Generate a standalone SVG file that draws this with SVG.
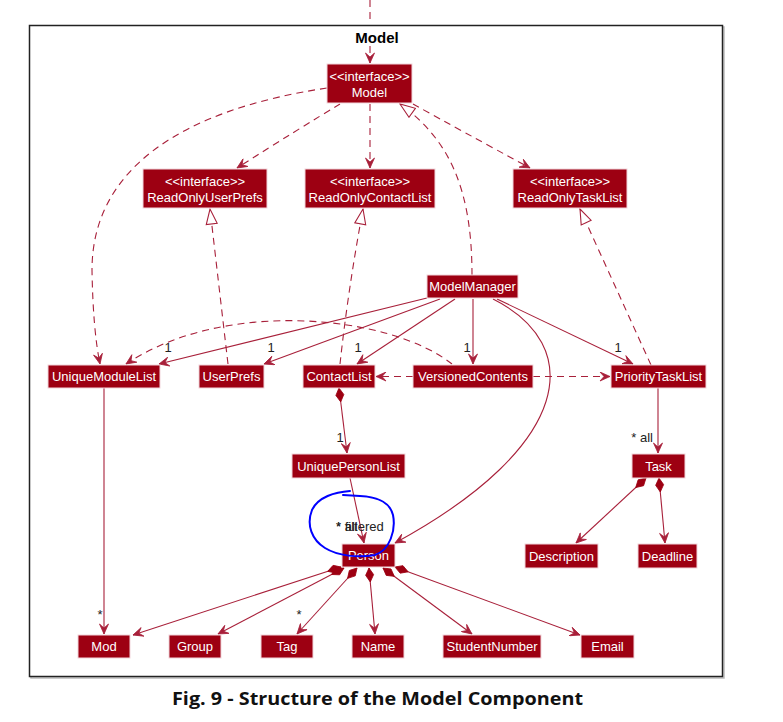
<svg xmlns="http://www.w3.org/2000/svg" width="783" height="722" viewBox="0 0 783 722">
<style>
.n{fill:#9D0012;stroke:#F2D6DC;stroke-width:1}
.t{font-family:"Liberation Sans",Arial,sans-serif;font-size:13px;fill:#FFFFFF;text-anchor:middle}
.e{fill:none;stroke:#A8203A;stroke-width:1.1}
.d{stroke-dasharray:7,5}
.l{font-family:"Liberation Sans",Arial,sans-serif;font-size:13px;fill:#222}
</style>
<defs>
<marker id="arr" viewBox="0 0 12 10" refX="11" refY="5" markerWidth="12" markerHeight="10" markerUnits="userSpaceOnUse" orient="auto">
<path d="M1,0.5 L11,5 L1,9.5 L5,5 Z" fill="#A8203A" stroke="#A8203A" stroke-width="0.8"/>
</marker>
<marker id="tri" viewBox="0 0 17 13" refX="16" refY="6.5" markerWidth="17" markerHeight="13" markerUnits="userSpaceOnUse" orient="auto">
<path d="M1,1 L16,6.5 L1,12 Z" fill="#FFFFFF" stroke="#A8203A" stroke-width="1.1"/>
</marker>
<marker id="dia" viewBox="0 0 17 10" refX="1" refY="5" markerWidth="17" markerHeight="10" markerUnits="userSpaceOnUse" orient="auto">
<path d="M1,5 L8,1 L15,5 L8,9 Z" fill="#9D0012" stroke="#9D0012" stroke-width="0.8"/>
</marker>
</defs>
<rect x="0" y="0" width="783" height="722" fill="#FFFFFF"/>
<g id="frame">
<rect x="31" y="27" width="693" height="651" fill="none" stroke="#BBBBBB" stroke-width="1.5"/>
<rect x="29.5" y="25.5" width="693" height="651" fill="#FFFFFF" stroke="#222222" stroke-width="1.5"/>
<text x="377" y="43" font-family="Liberation Sans,Arial,sans-serif" font-size="15" font-weight="bold" text-anchor="middle" fill="#000">Model</text>
</g>
<g id="connectors">
<path class="e d" d="M370,0 L370,22"/>
<path class="e d" d="M370,46 L370,63" marker-end="url(#arr)"/>
<path class="e d" d="M340,104 Q300,128 237,168" marker-end="url(#arr)"/>
<path class="e d" d="M370,104 L370,168" marker-end="url(#arr)"/>
<path class="e d" d="M413,104 Q460,130 530,168" marker-end="url(#arr)"/>
<path class="e d" d="M472,275 C472,190 450,140 400,104" marker-end="url(#tri)"/>
<path class="e d" d="M327,88 C180,110 92,170 92,270 Q93,330 100,364" marker-end="url(#arr)"/>
<path class="e d" d="M340,364 Q348,290 363,209" marker-end="url(#tri)"/>
<path class="e d" d="M228,364 L210,209" marker-end="url(#tri)"/>
<path class="e d" d="M651,365 L580,209" marker-end="url(#tri)"/>
<path class="e" d="M427,298 L159,364" marker-end="url(#arr)"/>
<path class="e" d="M440,299 L264,364" marker-end="url(#arr)"/>
<path class="e" d="M455,299 L357,364" marker-end="url(#arr)"/>
<path class="e" d="M473,299 L473,364" marker-end="url(#arr)"/>
<path class="e" d="M497,299 L633,364" marker-end="url(#arr)"/>
<path class="e" d="M493,299 C585,345 575,445 395,543" marker-end="url(#arr)"/>
<path class="e d" d="M452,364 C390,315 225,298 126,364" marker-end="url(#arr)"/>
<path class="e d" d="M413,376.5 L376,376.5" marker-end="url(#arr)"/>
<path class="e d" d="M533,376.5 L610,376.5" marker-end="url(#arr)"/>
<path class="e" d="M339,388 L347,453" marker-start="url(#dia)" marker-end="url(#arr)"/>
<path class="e" d="M350,478 L364,543" marker-end="url(#arr)"/>
<path class="e" d="M104,388 L104,634" marker-end="url(#arr)"/>
<path class="e" d="M658,388 L658,453" marker-end="url(#arr)"/>
<path class="e" d="M646,478 L576,543" marker-start="url(#dia)" marker-end="url(#arr)"/>
<path class="e" d="M659,478 L665,543" marker-start="url(#dia)" marker-end="url(#arr)"/>
<path class="e" d="M341,567 L133,635" marker-start="url(#dia)" marker-end="url(#arr)"/>
<path class="e" d="M344,568 L218,634" marker-start="url(#dia)" marker-end="url(#arr)"/>
<path class="e" d="M357,568 L297,634" marker-start="url(#dia)" marker-end="url(#arr)"/>
<path class="e" d="M369,568 L375,634" marker-start="url(#dia)" marker-end="url(#arr)"/>
<path class="e" d="M383,568 L472,634" marker-start="url(#dia)" marker-end="url(#arr)"/>
<path class="e" d="M395,567 L580,635" marker-start="url(#dia)" marker-end="url(#arr)"/>
<text class="l" x="168" y="352" text-anchor="middle">1</text>
<text class="l" x="271" y="352" text-anchor="middle">1</text>
<text class="l" x="358" y="352" text-anchor="middle">1</text>
<text class="l" x="467" y="352" text-anchor="middle">1</text>
<text class="l" x="618" y="352" text-anchor="middle">1</text>
<text class="l" x="340" y="442" text-anchor="middle">1</text>
<text class="l" x="653" y="442" text-anchor="end">* all</text>
<text class="l" x="336" y="531">* all</text>
<text class="l" x="336" y="531">* filtered</text>
<text class="l" x="100" y="619" text-anchor="middle" font-size="11">*</text>
<text class="l" x="299" y="619" text-anchor="middle" font-size="11">*</text>
</g>
<g id="Model"><rect class="n" x="327" y="64" width="85" height="39"/><text class="t" x="369.5" y="81" font-size="12">&lt;&lt;interface&gt;&gt;</text><text class="t" x="369.5" y="97">Model</text></g>
<g id="ReadOnlyUserPrefs"><rect class="n" x="143" y="169" width="124" height="39"/><text class="t" x="205" y="186" font-size="12">&lt;&lt;interface&gt;&gt;</text><text class="t" x="205" y="202">ReadOnlyUserPrefs</text></g>
<g id="ReadOnlyContactList"><rect class="n" x="305" y="169" width="130" height="39"/><text class="t" x="370" y="186" font-size="12">&lt;&lt;interface&gt;&gt;</text><text class="t" x="370" y="202">ReadOnlyContactList</text></g>
<g id="ReadOnlyTaskList"><rect class="n" x="513" y="169" width="114" height="39"/><text class="t" x="570" y="186" font-size="12">&lt;&lt;interface&gt;&gt;</text><text class="t" x="570" y="202">ReadOnlyTaskList</text></g>
<g id="ModelManager"><rect class="n" x="427" y="275" width="91" height="23"/><text class="t" x="472.5" y="291">ModelManager</text></g>
<g id="UniqueModuleList"><rect class="n" x="48" y="365" width="112" height="23"/><text class="t" x="104" y="381">UniqueModuleList</text></g>
<g id="UserPrefs"><rect class="n" x="199" y="365" width="65" height="23"/><text class="t" x="231.5" y="381">UserPrefs</text></g>
<g id="ContactList"><rect class="n" x="303" y="365" width="72" height="23"/><text class="t" x="339" y="381">ContactList</text></g>
<g id="VersionedContents"><rect class="n" x="413" y="365" width="120" height="23"/><text class="t" x="473" y="381">VersionedContents</text></g>
<g id="PriorityTaskList"><rect class="n" x="611" y="365" width="95" height="23"/><text class="t" x="658.5" y="381">PriorityTaskList</text></g>
<g id="UniquePersonList"><rect class="n" x="292" y="454" width="113" height="24"/><text class="t" x="348.5" y="471">UniquePersonList</text></g>
<g id="Task"><rect class="n" x="632" y="454" width="53" height="24"/><text class="t" x="658.5" y="471">Task</text></g>
<g id="Person"><rect class="n" x="342" y="544" width="53" height="23"/><text class="t" x="368.5" y="560">Person</text></g>
<g id="Description"><rect class="n" x="525" y="544" width="73" height="24"/><text class="t" x="561.5" y="561">Description</text></g>
<g id="Deadline"><rect class="n" x="638" y="544" width="59" height="24"/><text class="t" x="667.5" y="561">Deadline</text></g>
<g id="Mod"><rect class="n" x="78" y="635" width="52" height="23"/><text class="t" x="104" y="651">Mod</text></g>
<g id="Group"><rect class="n" x="169" y="635" width="52" height="23"/><text class="t" x="195" y="651">Group</text></g>
<g id="Tag"><rect class="n" x="261" y="635" width="52" height="23"/><text class="t" x="287" y="651">Tag</text></g>
<g id="Name"><rect class="n" x="352" y="635" width="52" height="23"/><text class="t" x="378" y="651">Name</text></g>
<g id="StudentNumber"><rect class="n" x="443" y="635" width="98" height="23"/><text class="t" x="492" y="651">StudentNumber</text></g>
<g id="Email"><rect class="n" x="581" y="635" width="53" height="23"/><text class="t" x="607.5" y="651">Email</text></g>
<path id="annotation" d="M350,491 C335,492 318,497 312,510 C306,525 312,540 325,548 C338,556 358,558 375,555 C390,550 396,530 393,515 C390,503 380,497 360,496 L343,495" fill="none" stroke="#0000FF" stroke-width="2" stroke-linecap="round"/>
<text x="377.5" y="705" font-family="'Open Sans','Noto Sans',sans-serif" font-size="17" font-weight="bold" text-anchor="middle" textLength="411" lengthAdjust="spacingAndGlyphs" fill="#111">Fig. 9 - Structure of the Model Component</text>
</svg>
